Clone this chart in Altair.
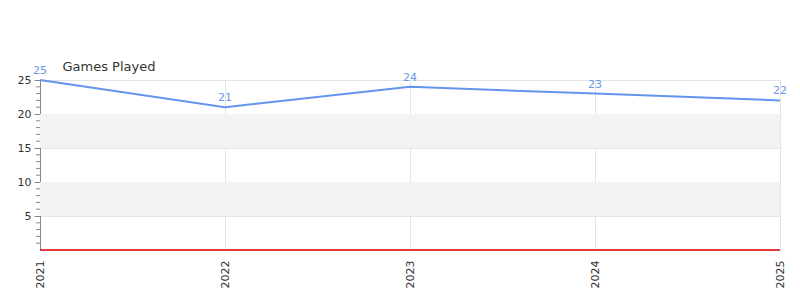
import altair as alt
import pandas as pd

years = ["2021", "2022", "2023", "2024", "2025"]
games = [25, 21, 24, 23, 22]
band_start = [5, 15]
band_end = [10, 20]
baseline = [0]
major_ticks = [5, 10, 15, 20, 25]
minor_ticks = [1, 2, 3, 4, 6, 7, 8, 9, 11, 12, 13, 14, 16, 17, 18, 19, 21, 22, 23, 24]

df = pd.DataFrame({"year": years, "games": games})
bands = pd.DataFrame({"y0": band_start, "y1": band_end})
zero = pd.DataFrame({"y": baseline})
minor = pd.DataFrame({"v": minor_ticks})

x_scale = alt.Scale(type="point", padding=0, domain=years)
x_axis = alt.Axis(
    title=None, labelAngle=-90, labelFont="DejaVu Sans", labelFontSize=11,
    labelColor="#333", tickSize=0, domain=False, grid=True,
    gridColor="#e4e4e4", labelPadding=10,
)
y_scale = alt.Scale(domain=[0, 25], nice=False)
y_axis = alt.Axis(
    title="Games Played", titleAngle=0, titleAlign="left", titleBaseline="bottom",
    titleX=22, titleY=-7, titleFont="DejaVu Sans", titleFontSize=13,
    titleFontWeight="normal", titleColor="#333",
    values=major_ticks, labelOverlap=False, labelFlush=False,
    labelFont="DejaVu Sans", labelFontSize=11, labelColor="#333", labelPadding=3,
    tickSize=6, tickColor="#888", domainColor="#888",
    grid=True, gridColor="#e4e4e4",
)

def Y(field):
    return alt.Y(field, scale=y_scale, axis=y_axis, title="Games Played")

def X():
    return alt.X("year:O", scale=x_scale, axis=x_axis)

band_layer = alt.Chart(bands).mark_rect(color="#f3f3f3").encode(
    y=Y("y0:Q"), y2="y1:Q",
    x=alt.value(0), x2=alt.value(740),
)

minor_layer = alt.Chart(minor).mark_rule(color="#888", strokeWidth=1).encode(
    y=Y("v:Q"),
    x=alt.value(-4), x2=alt.value(0),
)

line = alt.Chart(df).mark_line(color="#6495ED", strokeWidth=2).encode(
    x=X(), y=Y("games:Q"),
)
labels = alt.Chart(df).mark_text(
    color="#6a97e6", font="DejaVu Sans", fontSize=11, dy=-9
).encode(
    x=X(), y=Y("games:Q"), text="games:Q",
)
zero_rule = alt.Chart(zero).mark_rule(color="#e00000", strokeWidth=1.5).encode(
    y=Y("y:Q"),
    x=alt.value(0), x2=alt.value(740),
)

chart = alt.layer(band_layer, minor_layer, line, labels, zero_rule).properties(
    width=740, height=170,
    autosize=alt.AutoSizeParams(type="none"),
    padding={"left": 40, "top": 80, "right": 20, "bottom": 50},
    background="white",
).configure_view(stroke="#e0e0e0")

chart.save("out.html", embed_options={"renderer": "svg", "actions": False})
